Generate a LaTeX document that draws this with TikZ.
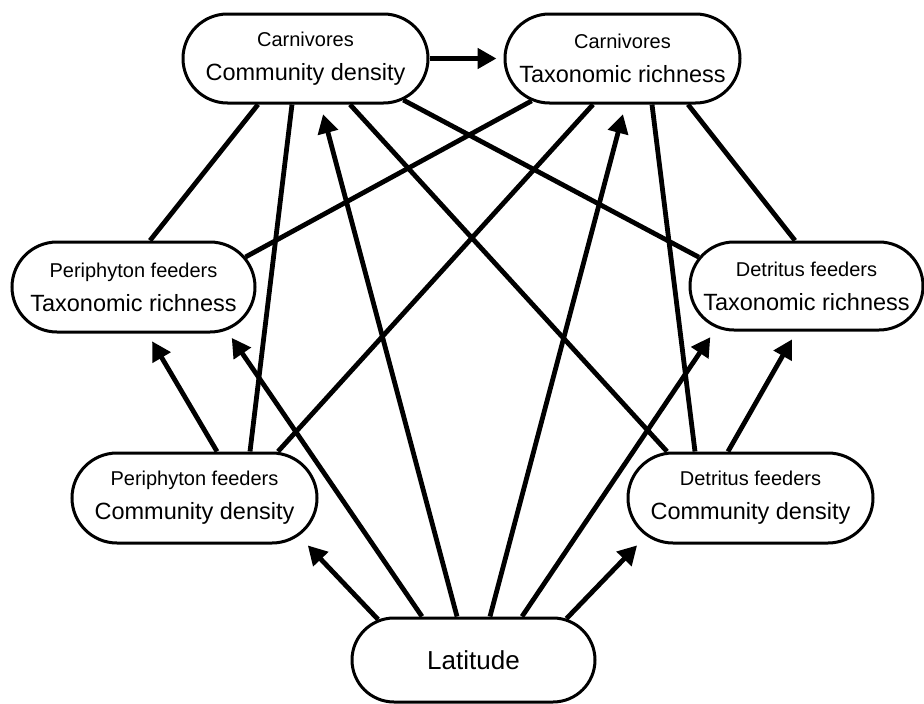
\documentclass[tikz,border=0pt]{standalone}
\usepackage{fontspec}
\setmainfont{Liberation Sans}
\usetikzlibrary{shapes.misc,arrows.meta}
\newcommand{\guild}[2]{{\fontsize{20}{34}\selectfont #1}\\#2}
\begin{document}
\begin{tikzpicture}[x=1pt,y=-1pt,
  box/.style={rounded rectangle,draw,line width=3pt,fill=white,minimum width=245pt,minimum height=89pt,inner sep=0pt,align=center,font=\fontsize{23.5}{34}\selectfont},
  link/.style={line width=4.8pt},
  arr/.style={line width=4.8pt,-{Triangle[length=19pt,width=20pt]}}]
\useasboundingbox (0,0) rectangle (924,704);
\node[box] (ccd) at (305.5,58.5) {\guild{Carnivores}{Community density}};
\node[box,minimum width=235pt] (ctr) at (622.5,58.5) {\guild{Carnivores}{Taxonomic richness}};
\node[box,minimum width=243pt,minimum height=90pt] (ptr) at (133.5,287) {\guild{Periphyton feeders}{Taxonomic richness}};
\node[box,minimum width=233pt,minimum height=88pt] (dtr) at (806.5,286) {\guild{Detritus feeders}{Taxonomic richness}};
\node[box,minimum height=90pt] (pcd) at (194.5,498) {\guild{Periphyton feeders}{Community density}};
\node[box,minimum height=90pt] (dcd) at (750.5,498) {\guild{Detritus feeders}{Community density}};
\node[box,minimum width=243pt,minimum height=84pt,font=\fontsize{26}{30}\selectfont] (lat) at (473.5,660) {Latitude};
\draw[link] ([xshift=-47.5pt]ccd.south) -- ([xshift=16.5pt]ptr.north);
\draw[link] ([xshift=-13.5pt]ccd.south) -- ([xshift=55.5pt]pcd.north);
\draw[link] ([xshift=44.5pt]ccd.south) -- ([xshift=-83.5pt]dcd.north);
\draw[link] (ccd.-23) -- (dtr.165);
\draw[link] (ctr.205) -- (ptr.15);
\draw[link] ([xshift=-29.5pt]ctr.south) -- ([xshift=83.5pt]pcd.north);
\draw[link] ([xshift=29.5pt]ctr.south) -- ([xshift=-55.5pt]dcd.north);
\draw[link] ([xshift=65.5pt]ctr.south) -- ([xshift=-11.5pt]dtr.north);
\draw[arr,shorten >=7pt] (ccd.east) -- (ctr.west);
\draw[arr,shorten >=9pt] ([xshift=22.5pt]pcd.north) -- ([xshift=14pt]ptr.south);
\draw[arr,shorten >=9pt] ([xshift=-22.5pt]dcd.north) -- ([xshift=-10pt]dtr.south);
\draw[arr,shorten >=13pt] (lat.157) -- (pcd.-20);
\draw[arr,shorten >=9pt] ([xshift=-51.5pt]lat.north) -- (ptr.-25);
\draw[arr,shorten >=10pt] ([xshift=-16.5pt]lat.north) -- ([xshift=15pt]ccd.south);
\draw[arr,shorten >=10pt] ([xshift=16.5pt]lat.north) -- ([xshift=3pt]ctr.south);
\draw[arr,shorten >=11pt] ([xshift=48.5pt]lat.north) -- (dtr.205);
\draw[arr,shorten >=13pt] (lat.24) -- (dcd.200);
\end{tikzpicture}
\end{document}
